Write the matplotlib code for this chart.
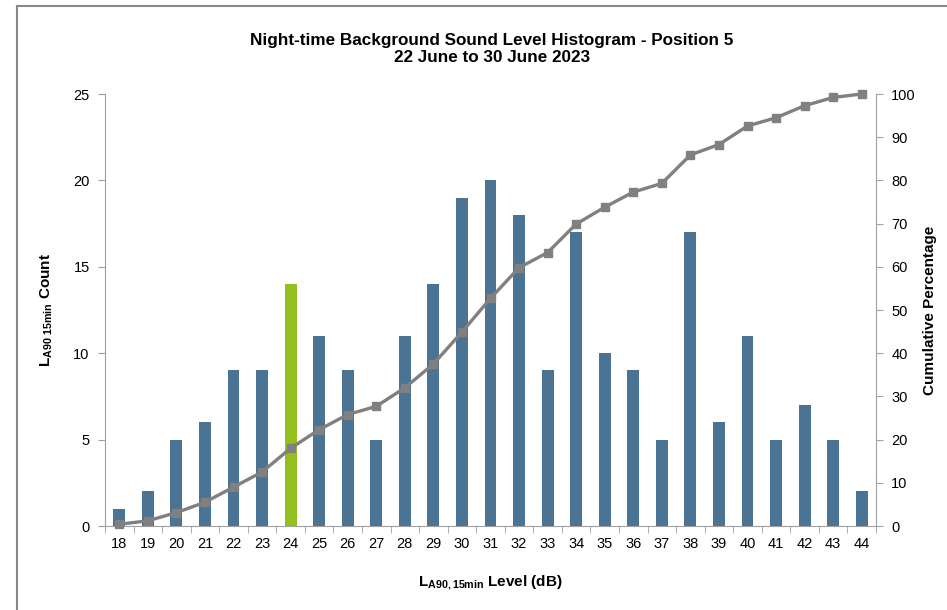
import numpy as np
import matplotlib.pyplot as plt
from matplotlib.lines import Line2D

plt.rcParams['font.family'] = ['Liberation Sans', 'DejaVu Sans']
plt.rcParams['mathtext.default'] = 'bf'

# data
levels = list(range(18, 45))
counts = [1, 2, 5, 6, 9, 9, 14, 11, 9, 5, 11, 14, 19, 20, 18, 9, 17, 10, 9, 5, 17, 6, 11, 5, 7, 5, 2]
cum_pct = [0.4, 1.2, 3.1, 5.5, 9.0, 12.5, 18.0, 22.3, 25.8, 27.7, 32.0, 37.5, 44.9, 52.7,
           59.8, 63.3, 69.9, 73.8, 77.3, 79.3, 85.9, 88.3, 92.6, 94.5, 97.3, 99.2, 100.0]
highlight = 24

blue = '#4a7394'
green = '#93c01f'
grey = '#808080'
axis_grey = '#a0a0a0'

fig = plt.figure(figsize=(9.47, 6.1), dpi=100)
ax = fig.add_axes([105/947, 1 - 526/610, (876 - 105)/947, (526 - 94)/610])

x = np.arange(len(levels))
colors = [green if lv == highlight else blue for lv in levels]
ax.bar(x, counts, width=0.42, color=colors, zorder=2)

ax.set_xlim(-0.5, len(levels) - 0.5)
ax.set_ylim(0, 25)
ax.set_yticks(range(0, 26, 5))
ax.set_xticks(x)
ax.set_xticklabels([str(lv) for lv in levels], fontsize=10.5)
ax.set_xticks(np.arange(-0.5, len(levels)), minor=True)
ax.tick_params(axis='x', which='major', length=0, pad=8)
ax.tick_params(axis='x', which='minor', length=5, color=axis_grey, direction='out')
ax.tick_params(axis='y', length=5, color=axis_grey, labelsize=10.5, pad=6)

for s in ['top', 'right']:
    ax.spines[s].set_visible(False)
ax.spines['left'].set_color(axis_grey)
ax.spines['bottom'].set_color(axis_grey)

ax2 = ax.twinx()
ax2.plot(x, cum_pct, color=grey, lw=2.4, marker='s', ms=6, zorder=3, clip_on=False)
ax2.set_ylim(0, 100)
ax2.set_yticks(range(0, 101, 10))
ax2.tick_params(axis='y', length=5, color=axis_grey, labelsize=10.5, pad=6)
for s in ['top', 'left', 'bottom']:
    ax2.spines[s].set_visible(False)
ax2.spines['right'].set_color(axis_grey)

fig.text(492/947, 1 - 49/610, 'Night-time Background Sound Level Histogram - Position 5\n22 June to 30 June 2023',
         ha='center', va='center', fontsize=12.3, fontweight='bold', linespacing=1.2)
fig.text(47/947, 1 - 310/610, r'L$_{\mathregular{A90\ 15min}}$ Count', rotation=90,
         ha='center', va='center', fontsize=11, fontweight='bold')
fig.text(930/947, 1 - 310/610, 'Cumulative Percentage', rotation=90,
         ha='center', va='center', fontsize=11, fontweight='bold')
fig.text(490/947, 1 - 583/610, r'L$_{\mathregular{A90,15min}}$ Level (dB)',
         ha='center', va='center', fontsize=11, fontweight='bold')

# outer chart border (left and top edges visible)
fig.add_artist(Line2D([17/947, 17/947], [0, 1 - 6/610], color='#888888', lw=1.5))
fig.add_artist(Line2D([17/947, 1], [1 - 6/610, 1 - 6/610], color='#888888', lw=1.5))

fig.savefig('out.png', dpi=100)
